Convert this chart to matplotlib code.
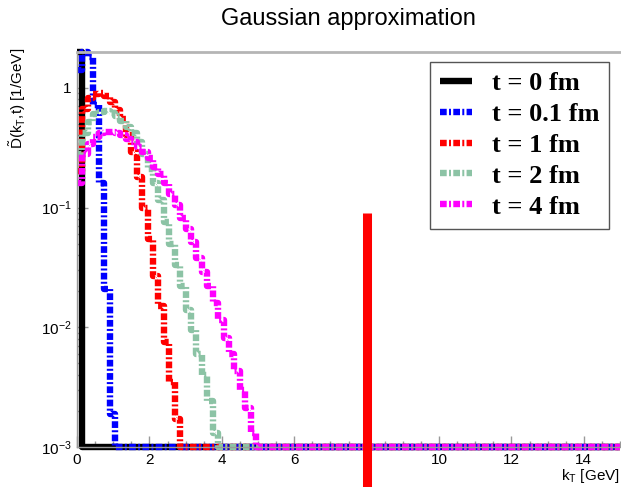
import numpy as np
import matplotlib
matplotlib.use("Agg")
import matplotlib.pyplot as plt
from matplotlib.ticker import (FixedLocator, FixedFormatter, MultipleLocator,
                               LogLocator, NullFormatter)

plt.rcParams["font.family"] = "Liberation Sans"
plt.rcParams["mathtext.fontset"] = "custom"
plt.rcParams["mathtext.rm"] = "Liberation Sans"
plt.rcParams["mathtext.it"] = "Liberation Sans:italic"

# 100 bins of 0.15 GeV on [0, 15] GeV; only the filled bins are listed,
# everything after them is empty
N_BINS = 100
KT_MAX = 15.0

d_t0 = [6.67]
d_t01 = [1.40, 2.00, 1.80, 0.72, 0.16, 0.021, 0.0019]
d_t1 = [0.20, 0.67, 0.82, 0.88, 0.90, 0.85, 0.76, 0.65, 0.55, 0.40,
        0.29, 0.18, 0.10, 0.055, 0.027, 0.015, 0.0075, 0.0035, 0.0017]
d_t2 = [0.28, 0.42, 0.52, 0.60, 0.63, 0.64, 0.62, 0.58, 0.53, 0.47,
        0.42, 0.35, 0.28, 0.21, 0.16, 0.115, 0.075, 0.050, 0.033, 0.022,
        0.014, 0.0095, 0.0060, 0.0040, 0.0024, 0.0013]
d_t4 = [0.16, 0.28, 0.34, 0.39, 0.42, 0.43, 0.43, 0.42, 0.40, 0.37,
        0.35, 0.32, 0.29, 0.26, 0.22, 0.19, 0.16, 0.13, 0.105, 0.082,
        0.066, 0.052, 0.038, 0.029, 0.022, 0.016, 0.0115, 0.0082, 0.0060,
        0.0043, 0.0030, 0.0021, 0.0013]

series = [d_t0, d_t01, d_t1, d_t2, d_t4]
labels = ["t = 0 fm", "t = 0.1 fm", "t = 1 fm", "t = 2 fm", "t = 4 fm"]
colors = ["black", "#0000ff", "#ff0000", "#8cc3a5", "#ff00ff"]

ytick_vals = [1e-3, 1e-2, 1e-1, 1.0]
ytick_labels = ["10$^{-3}$", "10$^{-2}$", "10$^{-1}$", "1"]

# cut marker
cut_kt = 8.0
cut_top = 0.09

YMIN, YMAX = 1e-3, 2.0
LW = 4.6
DASHDOT = (0, (1.05, 0.36, 0.31, 0.36))

edges = np.linspace(0.0, KT_MAX, N_BINS + 1)

fig = plt.figure(figsize=(6.21, 4.87), dpi=100)
ax = fig.add_axes([0.124, 0.0821, 0.8744, 0.8117])
ax.set_yscale("log")
ax.set_xlim(0, KT_MAX)
ax.set_ylim(YMIN, YMAX)

# bin contents outside the frame are drawn on the frame edge
for vals, col, lab in zip(series, colors, labels):
    h = np.zeros(N_BINS)
    h[:len(vals)] = vals
    h = np.clip(h, YMIN, YMAX)
    ls = "-" if col == "black" else DASHDOT
    ax.step(edges, np.append(h, h[-1]), where="post", color=col,
            lw=LW, ls=ls, label=lab, solid_capstyle="butt",
            dash_capstyle="butt", clip_on=False)

ax.plot([cut_kt, cut_kt], [cut_top, 1e-4], color="#ff0000", lw=6.5,
        solid_capstyle="butt", clip_on=False, zorder=5)

ax.xaxis.set_major_locator(MultipleLocator(2))
ax.xaxis.set_minor_locator(MultipleLocator(0.5))
ax.yaxis.set_major_locator(FixedLocator(ytick_vals))
ax.yaxis.set_major_formatter(FixedFormatter(ytick_labels))
ax.yaxis.set_minor_locator(LogLocator(subs=np.arange(2, 10)))
ax.yaxis.set_minor_formatter(NullFormatter())
ax.tick_params(which="both", direction="in", color="#999999", width=1,
               labelsize=11, top=False, right=False)
ax.tick_params(which="major", length=8)
ax.tick_params(which="minor", length=4)
ax.tick_params(axis="x", pad=4)
ax.tick_params(axis="y", pad=4)

for side in ("left", "bottom"):
    ax.spines[side].set_color("#999999")
    ax.spines[side].set_linewidth(1)
ax.spines["top"].set_color("#b5b5b5")
ax.spines["top"].set_linewidth(2)
ax.spines["right"].set_visible(False)

ax.set_title("Gaussian approximation", fontsize=17, pad=19)
ax.set_xlabel("k$_\\mathrm{T}$ [GeV]", loc="right", fontsize=11)
ax.xaxis.set_label_coords(1.0, -0.05)
ax.set_ylabel("$\\tilde{\\mathrm{D}}$(k$_\\mathrm{T}$,t) [1/GeV]", loc="top",
              fontsize=11)
ax.yaxis.set_label_coords(-0.09, 1.01)

leg = ax.legend(loc="upper right", bbox_to_anchor=(0.98, 0.975),
                prop=dict(family="Liberation Serif", weight="bold", size=19),
                frameon=True, fancybox=False, edgecolor="#555555",
                framealpha=1, handlelength=1.2, handletextpad=0.75,
                labelspacing=0.28, borderpad=0.38, borderaxespad=0)
leg.get_frame().set_linewidth(1.0)

fig.savefig("out.png", dpi=100)
